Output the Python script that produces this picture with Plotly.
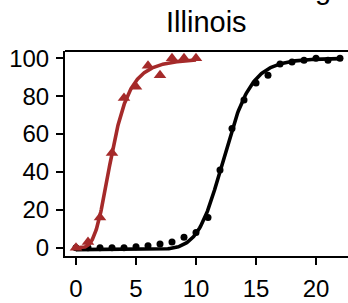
import numpy as np
import plotly.graph_objects as go

# --- data ---
red_x = [0, 1, 2, 3, 4, 5, 6, 7, 8, 9, 10]
red_y = [0, 3, 16, 50, 79, 85, 96, 91, 100, 100, 100]

black_x = [0, 1, 2, 3, 4, 5, 6, 7, 8, 9, 10, 11, 12, 13, 14, 15, 16, 17, 18, 19, 20, 21, 22]
black_y = [0, 0, 0, 0, 0, 0.5, 1, 2, 3, 5.5, 8, 16, 41, 63, 78, 87, 91, 97, 98, 99, 100, 99, 100]

# fitted curve parameters (Hill-type fit)
red_fit = dict(bottom=0, top=100, ec50=3.0, hill=3.9, xmin=0, xmax=10)
black_fit = dict(bottom=-1, top=100, ec50=12.4, hill=11.1, xmin=0, xmax=22)

x_ticks = [0, 5, 10, 15, 20]
y_ticks = [0, 20, 40, 60, 80, 100]
title_text = "Illinois"

RED = "#A52A2A"
FONT = "Liberation Sans, Arial, Helvetica, sans-serif"


def hill_curve(p):
    xs = np.linspace(p["xmin"], p["xmax"], 300)
    ys = p["bottom"] + (p["top"] - p["bottom"]) * xs ** p["hill"] / (xs ** p["hill"] + p["ec50"] ** p["hill"])
    return xs, ys


fig = go.Figure()

bx, by = hill_curve(black_fit)
fig.add_trace(go.Scatter(x=bx, y=by, mode="lines", line=dict(color="black", width=3.6),
                         hoverinfo="skip", showlegend=False))
fig.add_trace(go.Scatter(x=black_x, y=black_y, mode="markers",
                         marker=dict(color="black", size=7, symbol="circle"), showlegend=False))

rx, ry = hill_curve(red_fit)
fig.add_trace(go.Scatter(x=rx, y=ry, mode="lines", line=dict(color=RED, width=3.6),
                         hoverinfo="skip", showlegend=False))
fig.add_trace(go.Scatter(x=red_x, y=red_y, mode="markers",
                         marker=dict(color=RED, size=11, symbol="triangle-up"), showlegend=False))

fig.update_layout(
    width=348, height=303,
    margin=dict(l=65, r=0, t=51, b=47, autoexpand=False),
    paper_bgcolor="white", plot_bgcolor="white",
    font=dict(family=FONT, color="black", size=24),
    showlegend=False,
    xaxis=dict(range=[-0.917, 22.667], tickvals=x_ticks, ticks="outside", ticklen=7, tickwidth=1.5,
               tickcolor="black", showline=True, linecolor="black", linewidth=2, showgrid=False,
               zeroline=False, tickfont=dict(size=24), ticklabelstandoff=3, automargin=False),
    yaxis=dict(range=[-4.35, 103.85], tickvals=y_ticks, ticks="outside", ticklen=7, tickwidth=1.5,
               tickcolor="black", showline=True, linecolor="black", linewidth=2, showgrid=False,
               zeroline=False, tickfont=dict(size=24), ticklabelstandoff=2, automargin=False),
    shapes=[dict(type="line", xref="paper", yref="paper", x0=0, x1=1, y0=1, y1=1,
                 line=dict(color="black", width=2))],
    annotations=[
        dict(text=title_text, xref="paper", yref="paper", x=0.5, y=1, yshift=29,
             xanchor="center", yanchor="middle", showarrow=False, font=dict(size=29)),
        dict(text="g", xref="paper", yref="paper", x=0.91, y=1, yshift=62,
             xanchor="center", yanchor="middle", showarrow=False, font=dict(size=29)),
    ],
)

fig.write_html(
    "out.html",
    config={"displayModeBar": False},
    post_script="document.body.style.margin='0';document.body.style.padding='0';"
                "document.body.style.overflow='hidden';",
)
